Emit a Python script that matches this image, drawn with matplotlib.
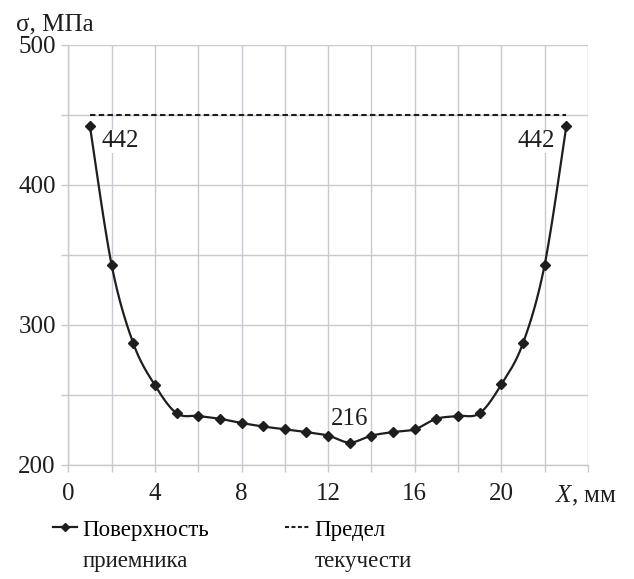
import numpy as np
import matplotlib
matplotlib.use("Agg")
import matplotlib.pyplot as plt
from matplotlib.lines import Line2D
from matplotlib import font_manager as fm

serif_name = 'DejaVu Serif'
for cand in ['Liberation Serif', 'Times New Roman', 'Nimbus Roman', 'DejaVu Serif']:
    try:
        fm.findfont(fm.FontProperties(family=cand), fallback_to_default=False)
        serif_name = cand
        break
    except Exception:
        pass

plt.rcParams['font.family'] = 'serif'
plt.rcParams['font.serif'] = [serif_name, 'DejaVu Serif']
plt.rcParams['mathtext.fontset'] = 'custom'
plt.rcParams['mathtext.rm'] = serif_name
plt.rcParams['mathtext.it'] = serif_name + ':italic'

# ---- data ----
x_mm = [1, 2, 3, 4, 5, 6, 7, 8, 9, 10, 11, 12, 13, 14, 15, 16, 17, 18, 19, 20, 21, 22, 23]
sigma = [442, 343, 287, 257, 237, 235, 233, 230, 227.5, 225.5, 223.5, 221, 216,
         221, 223.5, 225.5, 233, 235, 237, 257.5, 287, 343, 442]
yield_x = [1, 23]
yield_val = [450, 450]
x_ticks_labeled = [0, 4, 8, 12, 16, 20]
y_ticks_labeled = [200, 300, 400, 500]
series_label = ["Поверхность", "приемника"]
yield_label = ["Предел", "текучести"]
annotations = [(1, 442, "442"), (23, 442, "442"), (13, 216, "216")]

FS = 18
LFS = 16.5
INK = '#1e1e1e'
GRID = '#c9c9d1'


def smooth(xs, ys, n=20):
    xs = np.asarray(xs, float); ys = np.asarray(ys, float)
    px = np.concatenate([[xs[0]], xs, [xs[-1]]])
    py = np.concatenate([[ys[0]], ys, [ys[-1]]])
    ox, oy = [], []
    t = np.linspace(0, 1, n, endpoint=False)
    for i in range(1, len(px) - 2):
        p0, p1, p2, p3 = [np.array([px[j], py[j]]) for j in (i - 1, i, i + 1, i + 2)]
        c1 = p1 + (p2 - p0) / 6
        c2 = p2 - (p3 - p1) / 6
        b = ((1 - t)[:, None] ** 3 * p1 + 3 * ((1 - t) ** 2 * t)[:, None] * c1
             + 3 * ((1 - t) * t ** 2)[:, None] * c2 + (t ** 3)[:, None] * p2)
        ox.extend(b[:, 0]); oy.extend(b[:, 1])
    ox.append(xs[-1]); oy.append(ys[-1])
    return np.array(ox), np.array(oy)


fig = plt.figure(figsize=(6.34, 5.79), dpi=100)
ax = fig.add_axes([0.1077, 0.1969, 0.8197, 0.7254])

ax.set_xlim(0, 24)
ax.set_ylim(200, 500)
ax.set_xticks(np.arange(0, 25, 2))
ax.set_xticklabels([str(v) if v in x_ticks_labeled else '' for v in range(0, 25, 2)])
ax.set_yticks(np.arange(200, 501, 50))
ax.set_yticklabels([str(v) if v in y_ticks_labeled else '' for v in range(200, 501, 50)])
ax.grid(True, color=GRID, linewidth=1.0)
ax.set_axisbelow(True)
for s in ['top', 'right']:
    ax.spines[s].set_visible(False)
for s in ['left', 'bottom']:
    ax.spines[s].set_color(GRID)
    ax.spines[s].set_linewidth(1.0)
ax.tick_params(axis='both', colors=GRID, length=5, width=1.0, labelsize=FS, labelcolor=INK)
ax.tick_params(axis='x', pad=8)
ax.tick_params(axis='y', pad=4)

sx, sy = smooth(x_mm, sigma)
ax.plot(sx, sy, color=INK, linewidth=1.6, zorder=3)
ax.plot(x_mm, sigma, linestyle='none', marker='D', markersize=5, color=INK, zorder=4)
ax.plot(yield_x, yield_val, color=INK, linewidth=1.5, dashes=(2.6, 1.6), zorder=3)

bb = dict(facecolor='white', edgecolor='none', pad=0.5)
ax.annotate(annotations[0][2], (annotations[0][0], annotations[0][1]), xytext=(8, -3),
            textcoords='offset points', ha='left', va='top', fontsize=FS, color=INK, bbox=bb, zorder=5)
ax.annotate(annotations[1][2], (annotations[1][0], annotations[1][1]), xytext=(-8, -3),
            textcoords='offset points', ha='right', va='top', fontsize=FS, color=INK, bbox=bb, zorder=5)
ax.annotate(annotations[2][2], (annotations[2][0], annotations[2][1]), xytext=(0, 9),
            textcoords='offset points', ha='center', va='bottom', fontsize=FS, color=INK, zorder=5)

fig.text(16 / 634, 1 - 24 / 579, "σ, МПа", fontsize=FS, color=INK, ha='left', va='center')
fig.text(555 / 634, 1 - 496 / 579, r"$\mathit{X}$, мм", fontsize=FS, color=INK, ha='left', va='center')

# legend (two separate single-entry legends, second lines added beneath)
h1 = Line2D([], [], color=INK, linewidth=1.6, marker='D', markersize=4)
h2 = Line2D([], [], color=INK, linewidth=1.5, dashes=(1.9, 1.2))
legs = []
for handle, lab, xa in [(h1, series_label, 53), (h2, yield_label, 285)]:
    lg = fig.legend([handle], [lab[0]], frameon=False, fontsize=LFS, loc='center left',
                    bbox_to_anchor=(xa / 634, 1 - 530 / 579), handlelength=1.05,
                    handletextpad=0.25, borderaxespad=0, borderpad=0)
    legs.append((lg, lab[1]))
fig.canvas.draw()
inv = fig.transFigure.inverted()
for lg, second in legs:
    ext = lg.get_texts()[0].get_window_extent()
    x0, _ = inv.transform((ext.x0, 0))
    fig.text(x0, 1 - 562 / 579, second, fontsize=LFS, color=INK, ha='left', va='center')

fig.savefig("out.png", dpi=100)
